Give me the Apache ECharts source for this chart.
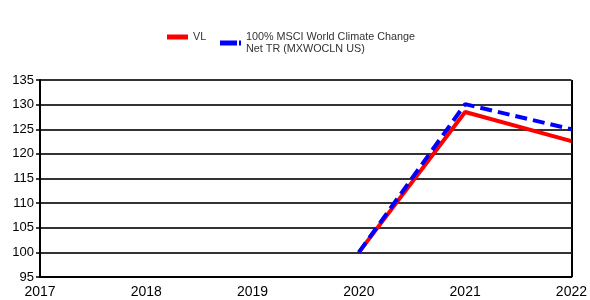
<!DOCTYPE html>
<html>
<head>
<meta charset="utf-8">
<script src="https://cdn.jsdelivr.net/npm/echarts@6/dist/echarts.min.js"></script>
<style>
  html, body { margin: 0; padding: 0; background: #fff; }
  #chart { width: 590px; height: 300px; }
</style>
</head>
<body>
<div id="chart"></div>
<script>
// years on the x axis
const years = ['2017', '2018', '2019', '2020', '2021', '2022'];
// fund (VL) and benchmark values, rebased to 100 in 2020
const vlValues = [null, null, null, 100, 128.5, 122.6];
const msciValues = [null, null, null, 100, 130.1, 125.0];
const seriesNames = ['VL', '100% MSCI World Climate Change\nNet TR (MXWOCLN US)'];

const chart = echarts.init(document.getElementById('chart'));

const legendText = { fontSize: 10.8, color: '#333', lineHeight: 12 };

const option = {
  animation: false,
  textStyle: { fontFamily: 'Liberation Sans, Arial, sans-serif' },
  legend: [
    {
      top: 31,
      left: 167,
      padding: 0,
      itemWidth: 21,
      itemHeight: 5,
      textStyle: legendText,
      data: [{ name: seriesNames[0], icon: 'rect' }]
    },
    {
      top: 31,
      left: 220,
      padding: 0,
      itemWidth: 21,
      itemHeight: 5,
      textStyle: legendText,
      data: [{ name: seriesNames[1], icon: 'path://M0,0H17V5H0Z M19,0H21V5H19Z' }]
    }
  ],
  grid: { left: 40, right: 18, top: 80, bottom: 23 },
  xAxis: {
    type: 'category',
    boundaryGap: false,
    data: years,
    axisLine: { lineStyle: { color: '#000', width: 2 } },
    axisTick: { show: false },
    axisLabel: { color: '#000', fontSize: 14, margin: 8 }
  },
  yAxis: {
    type: 'value',
    min: 95,
    max: 135,
    interval: 5,
    axisLine: { show: true, lineStyle: { color: '#000', width: 2 } },
    axisTick: { show: true, length: 4, lineStyle: { color: '#000', width: 1.5 } },
    axisLabel: { color: '#000', fontSize: 13, margin: 6 },
    splitLine: { lineStyle: { color: '#333', width: 2 } }
  },
  series: [
    {
      name: seriesNames[0],
      type: 'line',
      data: vlValues,
      symbol: 'none',
      lineStyle: { color: '#ff0000', width: 4 },
      itemStyle: { color: '#ff0000' }
    },
    {
      name: seriesNames[1],
      type: 'line',
      data: msciValues,
      symbol: 'none',
      lineStyle: { color: '#0000ff', width: 4, type: [12, 6] },
      itemStyle: { color: '#0000ff' }
    }
  ],
  graphic: [
    {
      type: 'line',
      shape: { x1: 572, y1: 80, x2: 572, y2: 277 },
      style: { stroke: '#000', lineWidth: 2 }
    }
  ]
};

chart.setOption(option);
</script>
</body>
</html>
